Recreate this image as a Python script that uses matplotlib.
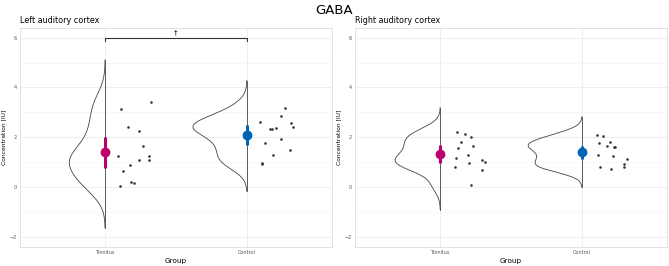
import numpy as np
import matplotlib
matplotlib.use("Agg")
import matplotlib.pyplot as plt

groups = ["Tinnitus", "Control"]
colors = {"Tinnitus": "#C0006A", "Control": "#0065B5"}

# values (concentration, IU)
left_tin = [3.43, 3.12, 2.40, 2.26, 1.65, 1.25, 1.25, 1.10, 1.07, 0.90, 0.63, 0.20, 0.17, 0.04]
left_tin_jit = [0.324, 0.111, 0.162, 0.238, 0.266, 0.092, 0.308, 0.238, 0.313, 0.176, 0.125, 0.181, 0.205, 0.106]
left_con = [3.17, 2.84, 2.60, 2.58, 2.41, 2.33, 2.33, 2.36, 1.94, 1.77, 1.50, 1.27, 0.96, 0.94]
left_con_jit = [0.268, 0.238, 0.092, 0.312, 0.327, 0.164, 0.178, 0.205, 0.238, 0.129, 0.308, 0.183, 0.108, 0.106]
right_tin = [2.21, 2.13, 2.00, 1.82, 1.66, 1.57, 1.27, 1.16, 1.07, 0.99, 0.95, 0.82, 0.67, 0.07]
right_tin_jit = [0.116, 0.172, 0.219, 0.146, 0.233, 0.125, 0.193, 0.113, 0.296, 0.317, 0.202, 0.104, 0.294, 0.219]
right_con = [2.08, 2.06, 1.75, 1.80, 1.63, 1.62, 1.61, 1.27, 1.26, 1.11, 0.92, 0.82, 0.79, 0.73]
right_con_jit = [0.106, 0.146, 0.118, 0.195, 0.174, 0.224, 0.235, 0.111, 0.221, 0.319, 0.296, 0.298, 0.125, 0.202]

panels = [
    ("Left auditory cortex", [(left_tin, left_tin_jit), (left_con, left_con_jit)], True),
    ("Right auditory cortex", [(right_tin, right_tin_jit), (right_con, right_con_jit)], False),
]
T_975_DF13 = 2.160


def nrd0(x):
    x = np.asarray(x)
    q75, q25 = np.percentile(x, [75, 25])
    lo = min(np.std(x, ddof=1), (q75 - q25) / 1.34)
    return 0.9 * lo * len(x) ** -0.2


def kde(x):
    x = np.asarray(x)
    bw = nrd0(x)
    grid = np.linspace(x.min() - 3 * bw, x.max() + 3 * bw, 512)
    d = np.exp(-0.5 * ((grid[:, None] - x[None, :]) / bw) ** 2).sum(axis=1)
    d /= len(x) * bw * np.sqrt(2 * np.pi)
    return grid, d


fig = plt.figure(figsize=(6.69, 2.66), dpi=100)
fig.text(0.5, 0.962, "GABA", ha="center", va="center", fontsize=9.5)

boxes = [[0.030, 0.0714, 0.466, 0.8236], [0.531, 0.0714, 0.466, 0.8236]]
for (title, data, bracket), b in zip(panels, boxes):
    ax = fig.add_axes(b)
    ax.set_xlim(0.4, 2.6)
    ax.set_ylim(-2.41, 6.39)
    ax.set_yticks([-2, 0, 2, 4, 6])
    ax.set_yticks([-1, 1, 3, 5], minor=True)
    ax.set_xticks([1, 2])
    ax.set_xticklabels(groups)
    ax.grid(True, which="major", color="#EBEBEB", lw=0.6, zorder=0)
    ax.grid(True, which="minor", axis="y", color="#F3F3F3", lw=0.4, zorder=0)
    ax.tick_params(which="both", length=0, labelsize=3.5, colors="#555555", pad=2.5)
    for s in ax.spines.values():
        s.set_color("#DDDDDD")
        s.set_linewidth(0.6)
    ax.set_xlabel("Group", fontsize=5.2, labelpad=1.5)
    ax.set_ylabel("Concentration [IU]", fontsize=4.3, labelpad=2)
    ax.set_title(title, fontsize=5.8, loc="left", pad=3.5)

    dens = [kde(v) for v, _ in data]
    dmax = max(d.max() for _, d in dens)
    for i, ((vals, jit), (grid, d), g) in enumerate(zip(data, dens, groups)):
        x0 = i + 1
        w = d / dmax * 0.38
        ax.plot(x0 - w, grid, color="#444444", lw=0.6, zorder=2)
        ax.plot([x0, x0], [grid[0], grid[-1]], color="#444444", lw=0.6, zorder=2)
        ax.scatter(x0 + np.array(jit), vals, s=3.5, color="#333333", zorder=3, lw=0)
        m = np.mean(vals)
        ci = T_975_DF13 * np.std(vals, ddof=1) / np.sqrt(len(vals))
        ax.plot([x0, x0], [m - ci, m + ci], color=colors[g], lw=2.2, zorder=4,
                solid_capstyle="butt")
        ax.scatter([x0], [m], s=50, color=colors[g], zorder=5, lw=0)

    if bracket:
        ax.plot([1, 1, 2, 2], [5.88, 6.0, 6.0, 5.88], color="#333333", lw=0.8, zorder=4)
        ax.text(1.5, 6.1, "\u2020", ha="center", va="bottom", fontsize=5)

fig.savefig("out.png", dpi=100)
